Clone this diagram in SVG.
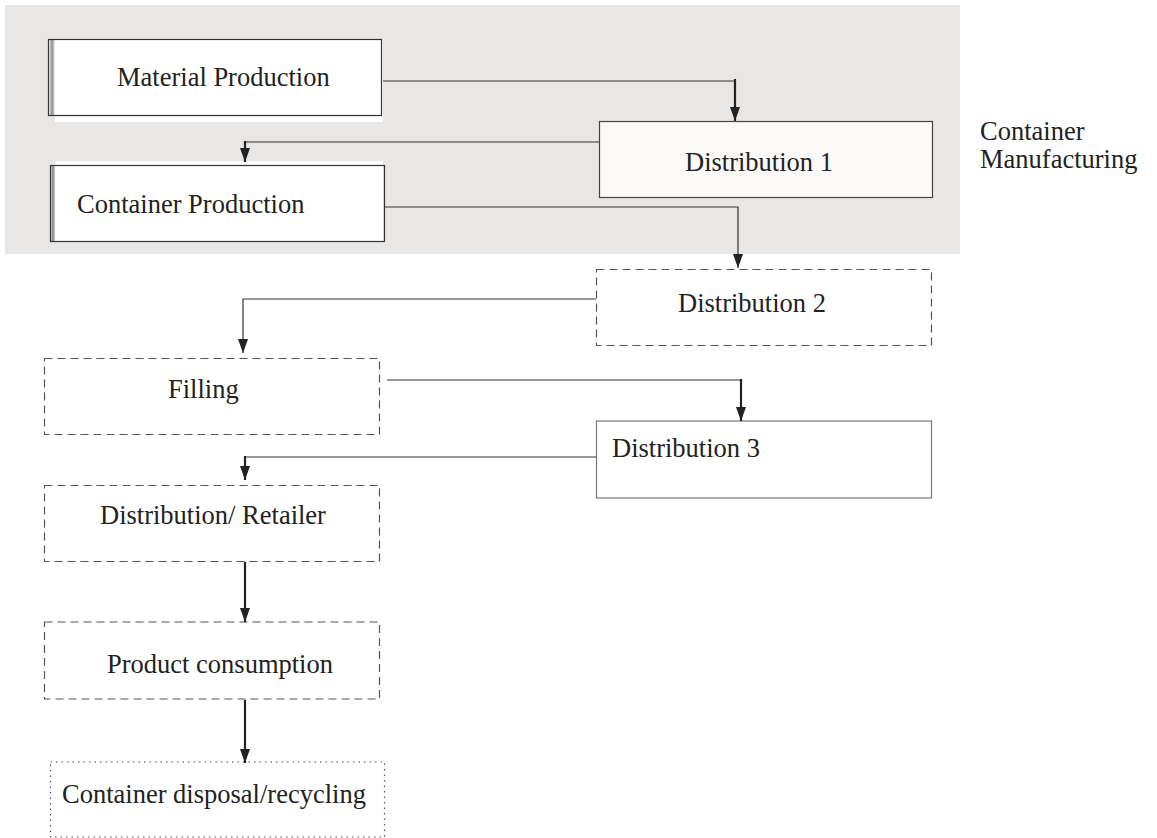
<svg xmlns="http://www.w3.org/2000/svg" width="1157" height="838" viewBox="0 0 1157 838">
<defs>
<style>
text{font-family:"Liberation Serif","Times New Roman",serif;font-size:26.5px;fill:#222}
.solid{fill:none;stroke:#333;stroke-width:1.2}
.dash{fill:#fff;stroke:#555;stroke-width:1.2;stroke-dasharray:8 5}
.dot{fill:#fff;stroke:#555;stroke-width:1.2;stroke-dasharray:1.5 4}
.thin{fill:none;stroke:#333;stroke-width:1.2}
.thick{fill:none;stroke:#222;stroke-width:2.2}
</style>
<marker id="ah" viewBox="0 0 14 10" markerWidth="14" markerHeight="10" refX="14" refY="5" orient="auto" markerUnits="userSpaceOnUse">
<path d="M0,0 L14,5 L0,10 z" fill="#222"/>
</marker>
</defs>
<rect id="bg" x="5" y="5" width="955" height="249" fill="#e8e7e5"/>
<g id="container-manufacturing-label">
<text x="980" y="140">Container</text>
<text x="980" y="168">Manufacturing</text>
</g>
<g id="n-material">
<rect x="55" y="40" width="328" height="82" fill="#fff"/>
<line x1="52" y1="40" x2="52" y2="116" stroke="#999" stroke-width="3"/>
<rect class="solid" x="48.5" y="39.5" width="333" height="76"/>
<text x="117" y="86">Material Production</text>
</g>
<g id="n-dist1">
<rect x="599.5" y="121.5" width="333" height="76" fill="#faf9f7" stroke="#444" stroke-width="1.2"/>
<text x="685" y="171">Distribution 1</text>
</g>
<g id="n-container">
<rect x="55" y="161" width="328" height="81" fill="#fff"/>
<line x1="53" y1="166" x2="53" y2="241" stroke="#999" stroke-width="3"/>
<rect class="solid" x="50.5" y="165.5" width="334" height="76"/>
<text x="77" y="213">Container Production</text>
</g>
<g id="n-dist2">
<rect class="dash" x="596.5" y="269.5" width="335" height="76"/>
<text x="678" y="312">Distribution 2</text>
</g>
<g id="n-filling">
<rect class="dash" x="44.5" y="358.5" width="335" height="76"/>
<text x="168" y="398">Filling</text>
</g>
<g id="n-dist3">
<rect x="596.5" y="421" width="335" height="77" fill="#fff" stroke="#777" stroke-width="1.2"/>
<text x="612" y="457">Distribution 3</text>
</g>
<g id="n-retailer">
<rect class="dash" x="44.5" y="485.5" width="335" height="76"/>
<text x="100" y="524">Distribution/ Retailer</text>
</g>
<g id="n-consumption">
<rect class="dash" x="44.5" y="622" width="335" height="77"/>
<text x="107" y="673">Product consumption</text>
</g>
<g id="n-disposal">
<rect class="dot" x="50.5" y="762" width="334" height="75"/>
<text x="62" y="803">Container disposal/recycling</text>
</g>
<g id="connectors">
<polyline class="thin" points="383,81 735,81"/>
<line class="thick" x1="735" y1="79" x2="735" y2="121" marker-end="url(#ah)"/>
<polyline class="thin" points="599,142 245,142"/>
<line class="thick" x1="245" y1="141" x2="245" y2="162" marker-end="url(#ah)"/>
<polyline class="thin" points="385,207 738,207 738,268" marker-end="url(#ah)"/>
<polyline class="thin" points="596,299 243,299 243,353" marker-end="url(#ah)"/>
<polyline class="thin" points="387,380 741,380"/>
<line class="thick" x1="741" y1="379" x2="741" y2="421" marker-end="url(#ah)"/>
<polyline class="thin" points="596,457 245,457"/>
<line class="thick" x1="245" y1="456" x2="245" y2="480" marker-end="url(#ah)"/>
<line class="thick" x1="245" y1="562" x2="245" y2="622" marker-end="url(#ah)"/>
<line class="thick" x1="245" y1="700" x2="245" y2="763" marker-end="url(#ah)"/>
</g>
</svg>
